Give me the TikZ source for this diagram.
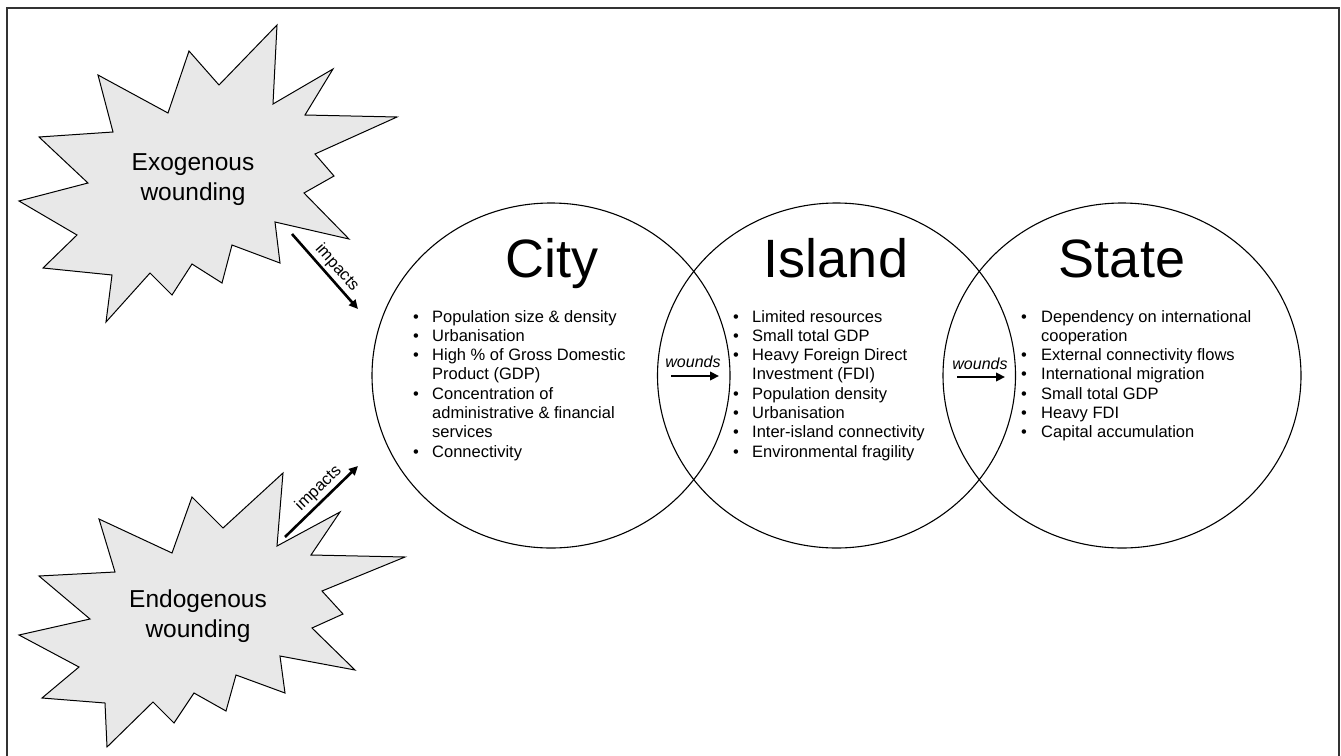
\documentclass[tikz,border=0pt]{standalone}
\usepackage{fontspec}
\setmainfont{Liberation Sans}
\usetikzlibrary{shapes.geometric,arrows.meta}
\definecolor{burstgray}{HTML}{E8E8E8}
\definecolor{framegray}{HTML}{333333}
\begin{document}
\begin{tikzpicture}[x=1pt,y=-1pt,
  burst/.style={draw=black,line width=1pt,fill=burstgray,line join=miter},
  burstlabel/.style={inner sep=0pt,anchor=base,font=\fontsize{24.5}{30}\selectfont},
  venn/.style={draw=black,line width=1.1pt,ellipse,inner sep=0pt,minimum width=358pt,minimum height=345pt},
  title/.style={inner sep=0pt,anchor=base,font=\fontsize{54}{60}\selectfont},
  items/.style={inner sep=0pt,anchor=base west,font=\fontsize{16.5}{19.3}\selectfont},
  woundlabel/.style={inner sep=0pt,anchor=base,font=\fontsize{16}{19}\selectfont\itshape},
  flowarrow/.style={line width=2.6pt,-{Triangle[length=9pt,width=8.5pt]}},
  implabel/.style={sloped,above,inner sep=2.5pt,font=\fontsize{16.5}{19}\selectfont}
]
\useasboundingbox (0,0) rectangle (1341,755);
% frame
\draw[framegray,line width=2pt] (7,756) -- (7,8) -- (1339,8) -- (1339,756);

% exogenous burst
\draw[burst] (277,25) -- (273,104) -- (333,69) -- (305,115) -- (397,117) -- (315,154)
  -- (334,176) -- (304,193) -- (349,239) -- (275,222) -- (280,263) -- (232,245)
  -- (222,283) -- (192,264) -- (172,295) -- (150,273) -- (106,322) -- (112,275)
  -- (43,268) -- (77,235) -- (19,201) -- (88,183) -- (39,137) -- (113,132)
  -- (98,75) -- (168,113) -- (189,51) -- (219,85) -- cycle;
\node[burstlabel] (exo) at (193,170) {\begin{tabular}[t]{@{}c@{}}Exogenous\\wounding\end{tabular}};

% endogenous burst
\draw[burst] (283,473) -- (277,546) -- (340,512) -- (311,555) -- (405,557) -- (322,591)
  -- (343,614) -- (312,628) -- (355,670) -- (280,656) -- (285,693) -- (236,675)
  -- (226,711) -- (194,693) -- (174,723) -- (153,702) -- (107,747) -- (105,703)
  -- (42,698) -- (79,667) -- (19,635) -- (90,619) -- (39,576) -- (115,572)
  -- (99,519) -- (172,553) -- (192,497) -- (223,528) -- cycle;
\node[burstlabel] (endo) at (198,607) {\begin{tabular}[t]{@{}c@{}}Endogenous\\wounding\end{tabular}};

% venn circles
\node[venn] (city) at (551,375.5) {};
\node[venn] (island) at (836.5,375.5) {};
\node[venn] (state) at (1122,375.5) {};

\node[title] (cityt) at (552,277) {City};
\node[title] (islandt) at (836,277) {Island};
\node[title] (statet) at (1122,277) {State};

\node[items] (cityl) at (413,322) {\begin{tabular}[t]{@{}p{19pt}@{}l@{}}
\textbullet & Population size \& density\\
\textbullet & Urbanisation\\
\textbullet & High \% of Gross Domestic\\
 & Product (GDP)\\
\textbullet & Concentration of\\
 & administrative \& financial\\
 & services\\
\textbullet & Connectivity
\end{tabular}};

\node[items] (islandl) at (733,322) {\begin{tabular}[t]{@{}p{19pt}@{}l@{}}
\textbullet & Limited resources\\
\textbullet & Small total GDP\\
\textbullet & Heavy Foreign Direct\\
 & Investment (FDI)\\
\textbullet & Population density\\
\textbullet & Urbanisation\\
\textbullet & Inter-island connectivity\\
\textbullet & Environmental fragility
\end{tabular}};

\node[items] (statel) at (1021,322) {\begin{tabular}[t]{@{}p{20pt}@{}l@{}}
\textbullet & Dependency on international\\
 & cooperation\\
\textbullet & External connectivity flows\\
\textbullet & International migration\\
\textbullet & Small total GDP\\
\textbullet & Heavy FDI\\
\textbullet & Capital accumulation
\end{tabular}};

% wounds arrows
\node[woundlabel] (w1) at (693,367) {wounds};
\node[woundlabel] (w2) at (980,369) {wounds};
\coordinate (w1s) at (671,376);
\coordinate (w1e) at (719,376);
\coordinate (w2s) at (957,377);
\coordinate (w2e) at (1005,377);
\draw[flowarrow] (w1s) -- (w1e);
\draw[flowarrow] (w2s) -- (w2e);

% impacts arrows
\coordinate (i1s) at (292,234);
\coordinate (i1e) at (358,309);
\coordinate (i2s) at (285,537);
\coordinate (i2e) at (358,466);
\draw[flowarrow] (i1s) -- node[implabel,pos=0.55] {impacts} (i1e);
\draw[flowarrow] (i2s) -- node[implabel,pos=0.57] {impacts} (i2e);
\end{tikzpicture}
\end{document}
